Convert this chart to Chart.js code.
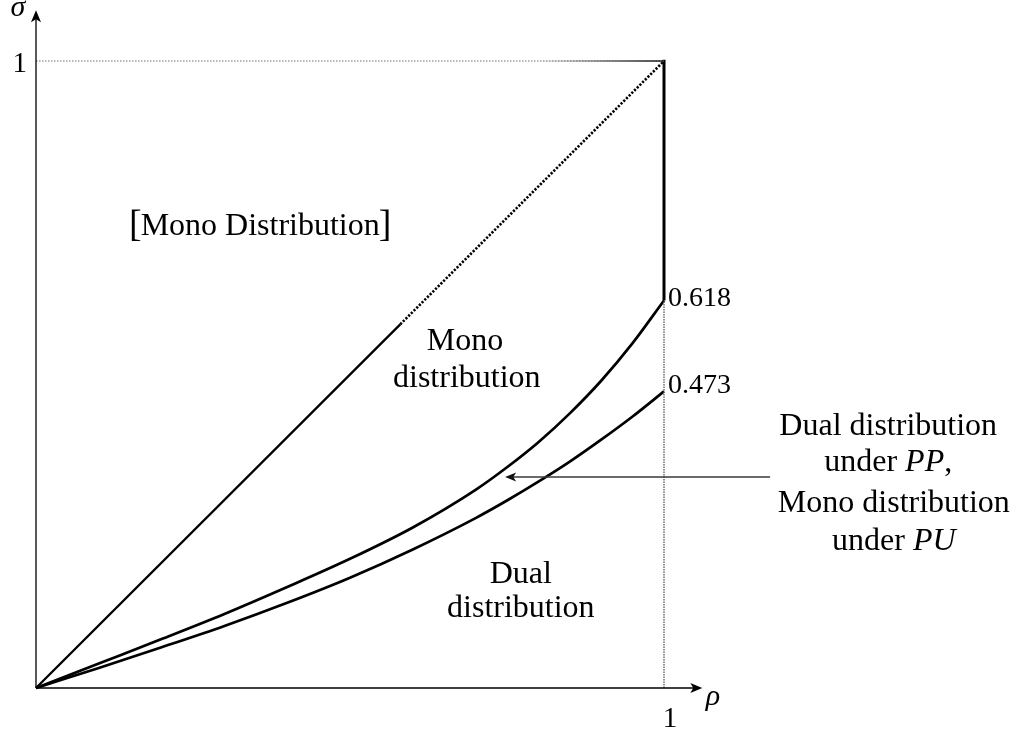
<!DOCTYPE html>
<html>
<head>
<meta charset="utf-8">
<style>
  html, body { margin: 0; padding: 0; background: #ffffff; }
  canvas { display: block; }
</style>
<script src="https://cdn.jsdelivr.net/npm/chart.js@4.4.1/dist/chart.umd.min.js"></script>
</head>
<body>
<canvas id="c" width="1030" height="731"></canvas>
<script>
// Region boundaries in the (rho, sigma) plane
const rho        = [0, 0.1, 0.2, 0.3, 0.4, 0.5, 0.6, 0.7, 0.75, 0.8, 0.85, 0.9, 0.95, 1.0];
const sigmaUpper = [0, 0.039, 0.078, 0.118, 0.161, 0.206, 0.256, 0.316, 0.352, 0.392, 0.438, 0.490, 0.550, 0.618];
const sigmaLower = [0, 0.032, 0.065, 0.099, 0.136, 0.176, 0.221, 0.271, 0.299, 0.329, 0.361, 0.396, 0.433, 0.473];

// Diagonal sigma = rho (solid part, then dotted part)
const diagSolidX  = [0, 0.58];
const diagDottedX = [0.58, 1];

// Axis ticks
const xTicks = [1];
const yTicks = [1];

// Values written at the right-hand ends of the two curves
const endLabels = [0.618, 0.473];

const toPts = (xs, ys) => xs.map((x, i) => ({ x: x, y: ys[i] }));

const black = '#000000';
const serif = '"Liberation Serif", "DejaVu Serif", serif';

function lineDs(data, opts) {
  return Object.assign({
    data: data,
    showLine: true,
    pointRadius: 0,
    borderColor: black,
    borderWidth: 2,
    fill: false,
    clip: false
  }, opts || {});
}

const xEnd = xTicks[xTicks.length - 1];
const yEnd = yTicks[yTicks.length - 1];

// top edge fades from grey into black towards the corner
function topEdgeColour(context) {
  const chart = context.chart;
  const sx = chart.scales && chart.scales.x;
  if (!sx || !chart.chartArea) return black;
  const x0 = sx.getPixelForValue(0.8), x1 = sx.getPixelForValue(1);
  if (!isFinite(x0) || !isFinite(x1) || x0 === x1) return black;
  const g = chart.ctx.createLinearGradient(x0, 0, x1, 0);
  g.addColorStop(0, 'rgba(0,0,0,0)');
  g.addColorStop(0.5, 'rgba(0,0,0,0.55)');
  g.addColorStop(1, 'rgba(0,0,0,1)');
  return g;
}

const datasets = [
  // dotted guide at sigma = 1
  lineDs([{ x: 0, y: yEnd }, { x: xEnd, y: yEnd }], { borderColor: '#707070', borderWidth: 1.2, borderDash: [1.5, 1.5] }),
  // dotted guide at rho = 1 below the upper curve
  lineDs([{ x: xEnd, y: 0 }, { x: xEnd, y: endLabels[0] }], { borderColor: '#5a5a5a', borderWidth: 1.3, borderDash: [1.5, 1] }),
  // solid top-right edge
  lineDs([{ x: 0.8, y: yEnd }, { x: xEnd, y: yEnd }], { borderWidth: 1.6, borderColor: topEdgeColour }),
  // thick vertical edge between sigma = 1 and the upper curve
  lineDs([{ x: xEnd, y: yEnd + 0.002 }, { x: xEnd, y: endLabels[0] }], { borderWidth: 3 }),
  // diagonal
  lineDs(toPts(diagSolidX, diagSolidX), { borderWidth: 2.3 }),
  lineDs(toPts(diagDottedX, diagDottedX), { borderWidth: 2.6, borderDash: [2.2, 1.6] }),
  // boundary curves
  lineDs(toPts(rho, sigmaUpper), { borderWidth: 2.7, cubicInterpolationMode: 'monotone' }),
  lineDs(toPts(rho, sigmaLower), { borderWidth: 2.7, cubicInterpolationMode: 'monotone' })
];

function arrowHead(ctx, tipX, tipY, dirX, dirY, len, half) {
  const nx = -dirY, ny = dirX;
  const bx = tipX - dirX * len, by = tipY - dirY * len;
  const cx = tipX - dirX * len * 0.75, cy = tipY - dirY * len * 0.75;
  ctx.beginPath();
  ctx.moveTo(tipX, tipY);
  ctx.lineTo(bx + nx * half, by + ny * half);
  ctx.lineTo(cx, cy);
  ctx.lineTo(bx - nx * half, by - ny * half);
  ctx.closePath();
  ctx.fill();
}

// draws a line of mixed roman / italic runs centred on cx
function mixedText(ctx, runs, cx, y, size) {
  let total = 0;
  runs.forEach(r => {
    ctx.font = (r.it ? 'italic ' : '') + size + 'px ' + serif;
    r.w = ctx.measureText(r.t).width;
    total += r.w;
  });
  let x = cx - total / 2;
  ctx.textAlign = 'left';
  runs.forEach(r => {
    ctx.font = (r.it ? 'italic ' : '') + size + 'px ' + serif;
    ctx.fillText(r.t, x, y);
    x += r.w;
  });
}

const decorations = {
  id: 'decorations',
  afterDatasetsDraw(chart) {
    const ctx = chart.ctx;
    const sx = chart.scales.x, sy = chart.scales.y;
    const X = v => sx.getPixelForValue(v);
    const Y = v => sy.getPixelForValue(v);
    ctx.save();

    // axes with arrow heads
    const axX = 1.061, axY = 1.081;
    ctx.strokeStyle = black;
    ctx.fillStyle = black;
    ctx.lineWidth = 1.3;
    ctx.beginPath();
    ctx.moveTo(X(0), Y(0)); ctx.lineTo(X(axX) - 6, Y(0));
    ctx.moveTo(X(0), Y(0)); ctx.lineTo(X(0), Y(axY) + 6);
    ctx.stroke();
    arrowHead(ctx, X(axX), Y(0), 1, 0, 12, 5);
    arrowHead(ctx, X(0), Y(axY), 0, -1, 12, 5);

    // axis symbols and ticks
    ctx.textBaseline = 'alphabetic';
    ctx.textAlign = 'center';
    ctx.font = 'italic 30px ' + serif;
    ctx.fillText('σ', X(-0.029), Y(1.071));
    ctx.fillText('ρ', X(1.078), Y(-0.027));
    ctx.font = '29px ' + serif;
    yTicks.forEach(t => ctx.fillText(String(t), X(-0.026), Y(t) + 11));
    xTicks.forEach(t => ctx.fillText(String(t), X(t) + 6, Y(0) + 39));

    // curve end values
    ctx.textAlign = 'left';
    ctx.textBaseline = 'middle';
    ctx.font = '28px ' + serif;
    endLabels.forEach((v, i) => {
      ctx.fillText(v.toFixed(3), X(1) + 4, Y(v) + (i === 0 ? -2 : -6));
    });

    // region names
    ctx.textBaseline = 'alphabetic';
    ctx.textAlign = 'center';
    ctx.font = '32px ' + serif;
    const mainTxt = 'Mono Distribution';
    const mw = ctx.measureText(mainTxt).width;
    const mcx = X(0.357), mby = Y(0.723);
    ctx.fillText(mainTxt, mcx, mby);
    ctx.font = '38px ' + serif;
    ctx.textAlign = 'right';
    ctx.fillText('[', mcx - mw / 2 + 1, mby + 1);
    ctx.textAlign = 'left';
    ctx.fillText(']', mcx + mw / 2 - 1, mby + 1);

    ctx.textAlign = 'center';
    ctx.font = '32px ' + serif;
    ctx.fillText('Mono', X(0.683), Y(0.539));
    ctx.fillText('distribution', X(0.686), Y(0.480));
    ctx.fillText('Dual', X(0.772), Y(0.167));
    ctx.fillText('distribution', X(0.772), Y(0.113));

    mixedText(ctx, [{ t: 'Dual distribution' }], X(1.357), Y(0.404), 32);
    mixedText(ctx, [{ t: 'under ' }, { t: 'PP', it: true }, { t: ',' }], X(1.357), Y(0.346), 32);
    mixedText(ctx, [{ t: 'Mono distribution' }], X(1.366), Y(0.281), 32);
    mixedText(ctx, [{ t: 'under ' }, { t: 'PU', it: true }], X(1.366), Y(0.220), 32);

    // pointer into the band between the two curves
    const ay = Y(0.3365);
    ctx.strokeStyle = '#3a3a3a';
    ctx.fillStyle = '#111111';
    ctx.lineWidth = 1.6;
    ctx.beginPath();
    ctx.moveTo(X(1.169), ay);
    ctx.lineTo(X(0.747) + 8, ay);
    ctx.stroke();
    arrowHead(ctx, X(0.747), ay, -1, 0, 11, 4.5);

    ctx.restore();
  }
};

new Chart(document.getElementById('c'), {
  type: 'scatter',
  data: { datasets: datasets },
  options: {
    responsive: false,
    devicePixelRatio: 1,
    animation: false,
    layout: { padding: 0 },
    scales: {
      x: { type: 'linear', min: -36 / 628, max: 994 / 628, display: false },
      y: { type: 'linear', min: -43 / 627, max: 688 / 627, display: false }
    },
    plugins: {
      legend: { display: false },
      tooltip: { enabled: false }
    },
    elements: { line: { borderCapStyle: 'butt' } }
  },
  plugins: [decorations]
});
</script>
</body>
</html>
